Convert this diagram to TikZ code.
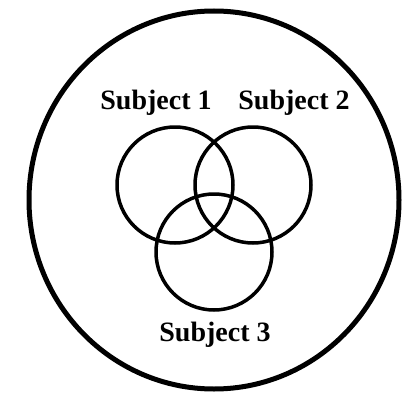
\documentclass[tikz,border=0pt]{standalone}
\usepackage{fontspec}
\setmainfont{Liberation Serif}
\begin{document}
\begin{tikzpicture}[x=1pt, y=-1pt, thick]
    \useasboundingbox (0, 0) rectangle (404, 396);

    % Outer circle
    \draw[line width=5pt] (214, 200) ellipse (185 and 189);

    % Subjects
    \draw[line width=3.5pt] (175, 185) circle (58);
    \draw[line width=3.5pt] (253, 185) circle (58);
    \draw[line width=3.5pt] (214, 252) circle (58);

    % Labels
    \node[font=\fontsize{28}{28}\selectfont\bfseries] (s1) at (156, 103) {Subject 1};
    \node[font=\fontsize{28}{28}\selectfont\bfseries] (s2) at (294, 103) {Subject 2};
    \node[font=\fontsize{28}{28}\selectfont\bfseries] (s3) at (215, 335) {Subject 3};
\end{tikzpicture}
\end{document}
